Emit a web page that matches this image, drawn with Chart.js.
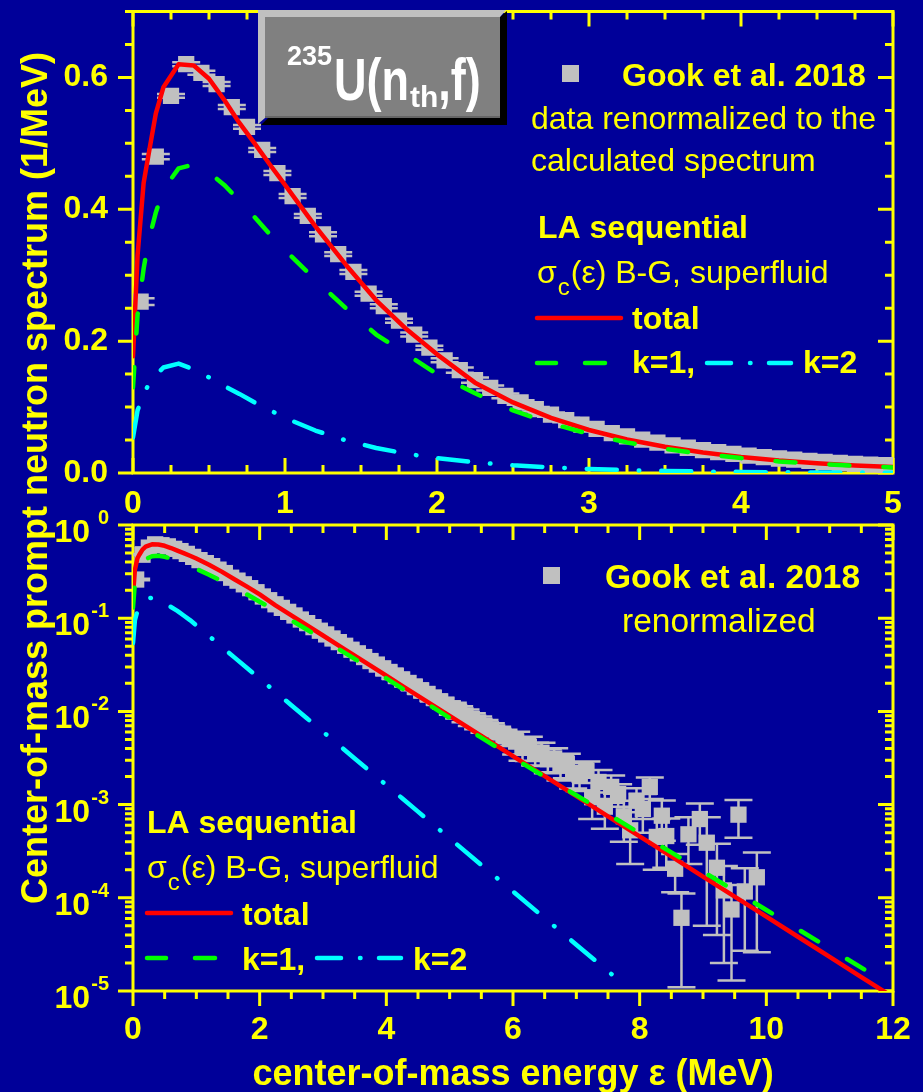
<!DOCTYPE html>
<html><head><meta charset="utf-8">
<script src="https://cdn.jsdelivr.net/npm/chart.js@4.4.1/dist/chart.umd.min.js"></script>
<style>
html,body{margin:0;padding:0;background:#000099;}
#wrap{position:relative;width:923px;height:1092px;overflow:hidden;background:#000099;}
canvas{position:absolute;left:0;top:0;}
</style></head><body>
<div id="wrap"><canvas id="cBottom" width="923" height="1092"></canvas><canvas id="cTop" width="923" height="1092"></canvas></div>
<script>
// ---- calculated spectra (LA sequential) ----
const energy = [0, 0.03, 0.07, 0.1, 0.15, 0.2, 0.3, 0.4, 0.5, 0.6, 0.7, 0.8, 0.9, 1.0, 1.2, 1.4, 1.6, 1.8, 2.0, 2.25, 2.5, 2.75, 3.0, 3.25, 3.5, 3.75, 4.0, 4.25, 4.5, 4.75, 5.0, 5.5, 6.0, 6.5, 7.0, 7.5, 8.0, 8.5, 9.0, 9.5, 10, 10.5, 11, 11.5, 12];
const total = [0.177, 0.33, 0.44, 0.48, 0.545, 0.585, 0.620, 0.618, 0.598, 0.566, 0.531, 0.500, 0.468, 0.437, 0.374, 0.316, 0.262, 0.218, 0.180, 0.137, 0.107, 0.0835, 0.0652, 0.0508, 0.0397, 0.0310, 0.0242, 0.0188, 0.0147, 0.01148, 0.00895, 0.00545, 0.00332, 0.00202, 0.00123, 7.49e-4, 4.56e-4, 2.78e-4, 1.69e-4, 1.03e-4, 6.27e-5, 3.82e-5, 2.32e-5, 1.41e-5, 8.61e-6];
const k1 = [0.13, 0.24, 0.31, 0.35, 0.395, 0.43, 0.462, 0.468, 0.456, 0.437, 0.413, 0.388, 0.362, 0.338, 0.293, 0.250, 0.210, 0.180, 0.150, 0.121, 0.095, 0.0751, 0.0592, 0.0464, 0.0366, 0.0287, 0.0226, 0.0176, 0.0139, 0.0109, 0.0085, 0.00523, 0.00320, 0.00199, 0.00126, 7.93e-4, 4.93e-4, 3.07e-4, 1.91e-4, 1.19e-4, 7.40e-5, 4.60e-5, 2.86e-5, 1.78e-5, 1.11e-5];
const energyK2 = [0, 0.03, 0.07, 0.1, 0.15, 0.2, 0.3, 0.4, 0.5, 0.6, 0.7, 0.8, 0.9, 1.0, 1.2, 1.4, 1.6, 1.8, 2.0, 2.25, 2.5, 2.75, 3.0, 3.25, 3.5, 3.75, 4.0, 4.25, 4.5, 4.75, 5.0, 5.5, 6.0, 6.5, 7.0, 7.5, 7.65];
const k2 = [0.054, 0.095, 0.12, 0.133, 0.148, 0.160, 0.166, 0.157, 0.145, 0.132, 0.120, 0.107, 0.0955, 0.0837, 0.0644, 0.0495, 0.0380, 0.0292, 0.0225, 0.0162, 0.01165, 0.0084, 0.00604, 0.00435, 0.00313, 0.00225, 0.00162, 0.00117, 8.4e-4, 6.05e-4, 4.35e-4, 2.25e-4, 1.17e-4, 6.05e-5, 3.14e-5, 1.63e-5, 1.34e-5];

// ---- Gook et al. 2018 (renormalized) ----
const gookE = [0.05,0.15,0.25,0.35,0.45,0.55,0.65,0.75,0.85,0.95,
 1.05,1.15,1.25,1.35,1.45,1.55,1.65,1.75,1.85,1.95,
 2.05,2.15,2.25,2.35,2.45,2.55,2.65,2.75,2.85,2.95,
 3.05,3.15,3.25,3.35,3.45,3.55,3.65,3.75,3.85,3.95,
 4.05,4.15,4.25,4.35,4.45,4.55,4.65,4.75,4.85,4.95,
 5.05,5.15,5.25,5.35,5.45,5.55,5.65,5.75,5.85,5.95,
 6.05,6.15,6.25,6.35,6.45,6.55,6.65,6.75,6.85,6.95,
 7.05,7.16,7.25,7.35,7.45,7.55,7.66,7.75,7.85,7.95,
 8.05,8.16,8.27,8.35,8.42,8.56,8.66,8.77,8.95,9.06,
 9.22,9.33,9.45,9.56,9.66,9.85];
const gookY = [0.26,0.48,0.572,0.620,0.607,0.590,0.555,0.525,0.490,0.455,
 0.420,0.390,0.362,0.332,0.305,0.272,0.253,0.231,0.210,0.190,
 0.171,0.156,0.141,0.129,0.117,0.107,0.0968,0.0885,0.0802,0.0734,
 0.0670,0.0606,0.0554,0.0506,0.0459,0.0420,0.0383,0.0347,0.0318,0.0290,
 0.0265,0.0241,0.0220,0.0202,0.0184,0.0168,0.0154,0.0140,0.0128,0.0118,
 0.0108,0.00987,0.00907,0.00828,0.00762,0.00701,0.00644,0.00596,0.00547,0.00506,
 0.00474,0.00406,0.00414,0.00363,0.00360,0.00307,0.00313,0.00261,0.00272,0.00219,
 2.1e-3,2.3e-3,1.2e-3,1.75e-3,9.5e-4,1.55e-3,1.3e-3,7.5e-4,5.3e-4,1.1e-3,
 9.0e-4,1.55e-3,4.5e-4,7.6e-4,4.6e-4,2.05e-4,6.1e-5,4.8e-4,7.0e-4,3.9e-4,
 2.1e-4,1.2e-4,7.5e-5,7.8e-4,1.17e-4,1.66e-4];
const gookErr = [0.005,0.004,0.003,0.003,0.003,0.003,0.003,0.003,0.003,0.003,
 0.003,0.003,0.003,0.003,0.003,0.003,0.003,0.003,0.003,0.003,
 0.003,0.004,0.004,0.0038,0.0036,0.0035,0.0034,0.0033,0.0032,0.0031,
 0.0034,0.0030,0.0028,0.0026,0.0024,0.0022,0.0020,0.0019,0.0017,0.0016,
 0.0021,0.0019,0.0018,0.0016,0.0015,0.0014,0.0013,0.0012,0.0011,0.0010,
 0.0016,0.0015,0.0014,0.0013,0.0012,0.0011,0.0010,0.0009,0.0009,0.0008,
 0.0013,0.0011,0.0012,0.0010,0.0010,0.0009,0.0009,0.0008,0.0008,0.0007,
 7e-4,6e-4,5e-4,6e-4,4e-4,5e-4,3.5e-4,3.5e-4,3e-4,4e-4,
 4e-4,4e-4,2.5e-4,3.5e-4,2.5e-4,9e-5,5e-5,2.5e-4,3.3e-4,3.4e-4,
 1.7e-4,1.0e-4,6.2e-5,3.4e-4,9e-5,1.4e-4];

// ---- axes ticks / labels ----
const topXTicks = [0, 1, 2, 3, 4, 5];
const topXTickLabels = ['0', '1', '2', '3', '4', '5'];
const topYTicks = [0, 0.2, 0.4, 0.6];
const topYTickLabels = ['0.0', '0.2', '0.4', '0.6'];
const botXTicks = [0, 2, 4, 6, 8, 10, 12];
const botXTickLabels = ['0', '2', '4', '6', '8', '10', '12'];
const botYDecades = [-5, -4, -3, -2, -1, 0];
const botYTickExponents = ['-5', '-4', '-3', '-2', '-1', '0'];

const YEL = '#ffff00', GRAY = '#c0c0c0';
const RED = '#ff0000', GREEN = '#00ff00', CYAN = '#00ffff';
const FF = '"Liberation Sans", Arial, Helvetica, sans-serif';
const DASH_K1 = [20, 34];
const DASH_K2 = [30, 22, 0.5, 22];

function txt(ctx, s, x, y, size, weight, color, align) {
  ctx.font = weight + ' ' + size + 'px ' + FF;
  ctx.fillStyle = color; ctx.textAlign = align || 'left'; ctx.textBaseline = 'alphabetic';
  ctx.fillText(s, x, y);
  return ctx.measureText(s).width;
}
function seg(ctx, x1, y1, x2, y2, color, w) {
  ctx.save(); ctx.strokeStyle = color; ctx.lineWidth = w; ctx.lineCap = 'round'; ctx.setLineDash([]);
  ctx.beginPath(); ctx.moveTo(x1, y1); ctx.lineTo(x2, y2); ctx.stroke(); ctx.restore();
}
function sigmaLine(ctx, x, y) {
  let w = txt(ctx, 'σ', x, y, 32, 'normal', YEL);
  x += w + 1;
  w = txt(ctx, 'c', x, y + 12, 24, 'normal', YEL);
  x += w + 1;
  txt(ctx, '(ε) B-G, superfluid', x, y, 32, 'normal', YEL);
}
function legendLines(ctx, x0, yTot, yK) {
  seg(ctx, x0 + 2, yTot, x0 + 86, yTot, RED, 4.5);
  seg(ctx, x0 + 2, yK, x0 + 21, yK, GREEN, 4.5);
  seg(ctx, x0 + 50, yK, x0 + 70, yK, GREEN, 4.5);
}
function legendK2(ctx, x0, yK) {
  seg(ctx, x0, yK, x0 + 24, yK, CYAN, 4.5);
  seg(ctx, x0 + 43, yK, x0 + 43.5, yK, CYAN, 4.5);
  seg(ctx, x0 + 62, yK, x0 + 84, yK, CYAN, 4.5);
}

function drawFrame(chart, spec) {
  const ctx = chart.ctx, a = chart.chartArea, xs = chart.scales.x, ys = chart.scales.y;
  ctx.save();
  ctx.strokeStyle = YEL; ctx.lineWidth = 3; ctx.lineCap = 'butt'; ctx.setLineDash([]);
  ctx.beginPath();
  ctx.rect(a.left, a.top, a.right - a.left, a.bottom - a.top);
  ctx.stroke();
  ctx.beginPath();
  spec.xTicks.forEach(function (t) {
    const px = xs.getPixelForValue(t[0]); const L = t[1] ? 15 : 8;
    ctx.moveTo(px, a.top); ctx.lineTo(px, a.top + L);
    if (spec.bottomOut) { ctx.moveTo(px, a.bottom); ctx.lineTo(px, a.bottom + L); }
    else { ctx.moveTo(px, a.bottom); ctx.lineTo(px, a.bottom - L); }
  });
  spec.yTicks.forEach(function (t) {
    const py = ys.getPixelForValue(t[0]); const L = t[1] ? 15 : 8;
    ctx.moveTo(a.left, py); ctx.lineTo(a.left - L, py);
    ctx.moveTo(a.right, py); ctx.lineTo(a.right - L, py);
  });
  ctx.stroke();
  ctx.restore();
}
function drawErrorBars(chart) {
  const ctx = chart.ctx, a = chart.chartArea, xs = chart.scales.x, ys = chart.scales.y;
  ctx.save();
  ctx.beginPath(); ctx.rect(a.left, a.top, a.right - a.left, a.bottom - a.top); ctx.clip();
  ctx.strokeStyle = GRAY; ctx.lineWidth = 2.5; ctx.setLineDash([]);
  ctx.beginPath();
  for (let i = 0; i < gookE.length; i++) {
    const px = xs.getPixelForValue(gookE[i]);
    if (px < a.left - 30 || px > a.right + 30) continue;
    const lo = gookY[i] - gookErr[i], hi = gookY[i] + gookErr[i];
    const pyLo = lo > 0 ? ys.getPixelForValue(lo) : a.bottom + 60;
    const pyHi = ys.getPixelForValue(hi);
    ctx.moveTo(px, pyLo); ctx.lineTo(px, pyHi);
    ctx.moveTo(px - 14, pyLo); ctx.lineTo(px + 14, pyLo);
    ctx.moveTo(px - 14, pyHi); ctx.lineTo(px + 14, pyHi);
  }
  ctx.stroke();
  ctx.restore();
}

function curveDatasets() {
  return [
    { type: 'line', label: 'k=1', data: energy.map((e, i) => ({ x: e, y: k1[i] })),
      borderColor: GREEN, borderWidth: 4.5, borderDash: DASH_K1, borderCapStyle: 'round', borderJoinStyle: 'round',
      pointRadius: 0, tension: 0, fill: false, clip: 0 },
    { type: 'line', label: 'k=2', data: energyK2.map((e, i) => ({ x: e, y: k2[i] })),
      borderColor: CYAN, borderWidth: 4.5, borderDash: DASH_K2, borderCapStyle: 'round', borderJoinStyle: 'round',
      pointRadius: 0, tension: 0, fill: false, clip: 0 },
    { type: 'line', label: 'total', data: energy.map((e, i) => ({ x: e, y: total[i] })),
      borderColor: RED, borderWidth: 4.5, borderCapStyle: 'round', borderJoinStyle: 'round',
      pointRadius: 0, tension: 0, fill: false, clip: 0 },
    { type: 'scatter', label: 'Gook et al. 2018', data: gookE.map((e, i) => ({ x: e, y: gookY[i] })),
      pointStyle: 'rect', pointRadius: 11.5, pointHoverRadius: 11.5, pointBackgroundColor: GRAY,
      pointBorderWidth: 0, backgroundColor: GRAY, borderWidth: 0, showLine: false, clip: 0 }
  ];
}
function fixY(w) { return function (s) { s.width = w; s.paddingTop = 0; s.paddingBottom = 0; s.paddingLeft = 0; s.paddingRight = 0; }; }
function fixX(h) { return function (s) { s.height = h; s.paddingTop = 0; s.paddingBottom = 0; s.paddingLeft = 0; s.paddingRight = 0; }; }
const tickFont = { family: FF, size: 32, weight: 'bold' };

// ---------------- top panel ----------------
const topXT = []; for (let i = 0; i <= 20; i++) topXT.push([i * 0.25, i % 4 === 0]);
const topYT = []; for (let i = 0; i <= 14; i++) topYT.push([i * 0.05, i % 4 === 0]);

new Chart(document.getElementById('cTop'), {
  type: 'scatter',
  data: { datasets: curveDatasets() },
  options: {
    responsive: false, animation: false, devicePixelRatio: 1, events: [],
    layout: { padding: { left: 0, top: 8, right: 30, bottom: 549 } },
    plugins: { legend: { display: false }, tooltip: { enabled: false } },
    scales: {
      x: { type: 'linear', min: 0, max: 5, position: 'bottom',
        afterBuildTicks: s => { s.ticks = topXTicks.map(v => ({ value: v })); },
        afterFit: fixX(70),
        grid: { display: false, drawTicks: false }, border: { display: false },
        ticks: { color: YEL, font: tickFont, padding: 12, maxRotation: 0, autoSkip: false,
          callback: (v, i) => topXTickLabels[i] } },
      y: { type: 'linear', min: 0, max: 0.7,
        afterBuildTicks: s => { s.ticks = topYTicks.map(v => ({ value: v })); },
        afterFit: fixY(133),
        grid: { display: false, drawTicks: false }, border: { display: false },
        ticks: { color: YEL, font: tickFont, padding: 25, autoSkip: false,
          callback: (v, i) => topYTickLabels[i] } }
    }
  },
  plugins: [{
    id: 'topDeco',
    beforeDatasetsDraw(chart) {
      drawFrame(chart, { xTicks: topXT, yTicks: topYT, bottomOut: false });
      drawErrorBars(chart);
    },
    afterDraw(chart) {
      const ctx = chart.ctx;
      ctx.save();
      // title box
      ctx.fillStyle = '#000000';
      ctx.beginPath(); ctx.moveTo(261, 125); ctx.lineTo(507, 125); ctx.lineTo(507, 11); ctx.lineTo(500, 17);
      ctx.lineTo(500, 118); ctx.lineTo(268, 118); ctx.closePath(); ctx.fill();
      ctx.fillStyle = GRAY;
      ctx.beginPath(); ctx.moveTo(258, 10); ctx.lineTo(506, 10); ctx.lineTo(500, 17); ctx.lineTo(265, 17);
      ctx.lineTo(265, 118); ctx.lineTo(258, 124); ctx.closePath(); ctx.fill();
      ctx.fillStyle = '#808080'; ctx.fillRect(265, 17, 235, 101);
      ctx.fillStyle = '#666666'; ctx.fillRect(265, 116, 235, 2);
      // title text
      txt(ctx, '235', 287, 65, 27, 'bold', '#ffffff');
      ctx.save(); ctx.translate(334, 100); ctx.scale(1, 1.3);
      let w = txt(ctx, 'U(n', 0, 0, 45, 'bold', '#ffffff'); ctx.restore();
      let x = 334 + w + 1;
      w = txt(ctx, 'th', x, 107, 30, 'bold', '#ffffff'); x += w;
      ctx.save(); ctx.translate(x, 100); ctx.scale(1, 1.3);
      txt(ctx, ',f)', 0, 0, 45, 'bold', '#ffffff'); ctx.restore();
      // legend
      ctx.fillStyle = GRAY; ctx.fillRect(562, 65, 17, 17);
      txt(ctx, 'Gook et al. 2018', 622, 86, 32, 'bold', YEL);
      txt(ctx, 'data renormalized to the', 531, 129, 32, 'normal', YEL);
      txt(ctx, 'calculated spectrum', 531, 171, 32, 'normal', YEL);
      txt(ctx, 'LA sequential', 538, 238, 32, 'bold', YEL);
      sigmaLine(ctx, 537, 283);
      legendLines(ctx, 535, 318, 363);
      txt(ctx, 'total', 632, 329, 32, 'bold', YEL);
      txt(ctx, 'k=1,', 632, 373, 32, 'bold', YEL);
      legendK2(ctx, 707, 363);
      txt(ctx, 'k=2', 803, 373, 32, 'bold', YEL);
      ctx.restore();
    }
  }]
});

// ---------------- bottom panel ----------------
const botXT = []; for (let i = 0; i <= 24; i++) botXT.push([i * 0.5, i % 4 === 0]);
const botYT = [];
botYDecades.forEach(d => { botYT.push([Math.pow(10, d), true]); if (d < 0) for (let m = 2; m <= 9; m++) botYT.push([m * Math.pow(10, d), false]); });

new Chart(document.getElementById('cBottom'), {
  type: 'scatter',
  data: { datasets: curveDatasets() },
  options: {
    responsive: false, animation: false, devicePixelRatio: 1, events: [],
    layout: { padding: { left: 0, top: 525, right: 30, bottom: 31 } },
    plugins: { legend: { display: false }, tooltip: { enabled: false } },
    scales: {
      x: { type: 'linear', min: 0, max: 12, position: 'bottom',
        afterBuildTicks: s => { s.ticks = botXTicks.map(v => ({ value: v })); },
        afterFit: fixX(70),
        grid: { display: false, drawTicks: false }, border: { display: false },
        ticks: { color: YEL, font: tickFont, padding: 20, maxRotation: 0, autoSkip: false,
          callback: (v, i) => botXTickLabels[i] } },
      y: { type: 'logarithmic', min: 1e-5, max: 1,
        afterFit: fixY(133),
        grid: { display: false, drawTicks: false }, border: { display: false },
        ticks: { display: false } }
    }
  },
  plugins: [{
    id: 'botDeco',
    beforeDatasetsDraw(chart) {
      drawFrame(chart, { xTicks: botXT, yTicks: botYT, bottomOut: true });
      drawErrorBars(chart);
    },
    afterDraw(chart) {
      const ctx = chart.ctx, ys = chart.scales.y;
      ctx.save();
      // log tick labels 10^n
      botYDecades.forEach((d, i) => {
        const py = ys.getPixelForValue(Math.pow(10, d));
        txt(ctx, '10', 90, py + 17, 32, 'bold', YEL, 'right');
        txt(ctx, botYTickExponents[i], 109, py - 1, 20, 'bold', YEL, 'right');
      });
      // legends
      ctx.fillStyle = GRAY; ctx.fillRect(543, 567, 17, 17);
      txt(ctx, 'Gook et al. 2018', 605, 588, 33.5, 'bold', YEL);
      txt(ctx, 'renormalized', 622, 632, 33.5, 'normal', YEL);
      txt(ctx, 'LA sequential', 147, 833, 32, 'bold', YEL);
      sigmaLine(ctx, 147, 878);
      legendLines(ctx, 145, 913, 958);
      txt(ctx, 'total', 242, 925, 32, 'bold', YEL);
      txt(ctx, 'k=1,', 242, 970, 32, 'bold', YEL);
      legendK2(ctx, 317, 958);
      txt(ctx, 'k=2', 413, 970, 32, 'bold', YEL);
      // axis titles
      txt(ctx, 'center-of-mass energy ε (MeV)', 513, 1085, 36, 'bold', YEL, 'center');
      ctx.save(); ctx.translate(47, 478); ctx.rotate(-Math.PI / 2);
      txt(ctx, 'Center-of-mass prompt neutron spectrum (1/MeV)', 0, 0, 36, 'bold', YEL, 'center');
      ctx.restore();
      ctx.restore();
    }
  }]
});
</script>
</body></html>
